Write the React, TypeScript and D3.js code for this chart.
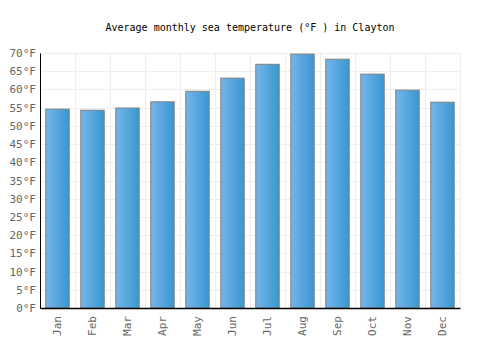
import { useEffect, useRef } from "react";
import * as d3 from "d3";

const months = ["Jan", "Feb", "Mar", "Apr", "May", "Jun", "Jul", "Aug", "Sep", "Oct", "Nov", "Dec"];
const temps = [54.6, 54.3, 54.9, 56.6, 59.5, 63.1, 66.9, 69.7, 68.3, 64.2, 59.8, 56.5];
const yTicks = [0, 5, 10, 15, 20, 25, 30, 35, 40, 45, 50, 55, 60, 65, 70];

const App = () => {
  const ref = useRef<SVGSVGElement>(null);

  useEffect(() => {
    if (!ref.current) return;
    const svg = d3.select(ref.current);
    svg.selectAll("*").remove();

    const W = 500;
    const H = 350;
    const margin = { top: 53, right: 40, bottom: 42, left: 40 };
    const width = W - margin.left - margin.right;
    const height = H - margin.top - margin.bottom;
    const font = "'DejaVu Sans Mono', monospace";

    const defs = svg.append("defs");
    const grad = defs.append("linearGradient").attr("id", "barGrad").attr("x1", "0%").attr("x2", "100%");
    grad.append("stop").attr("offset", "0%").attr("stop-color", "#75b5ea");
    grad.append("stop").attr("offset", "100%").attr("stop-color", "#3997d0");

    svg.append("text")
      .attr("x", W / 2)
      .attr("y", 31)
      .attr("text-anchor", "middle")
      .style("font-family", font)
      .style("font-size", "10px")
      .style("fill", "#000")
      .text("Average monthly sea temperature (°F ) in Clayton");

    const g = svg.append("g").attr("transform", `translate(${margin.left},${margin.top})`);

    const x = d3.scaleBand().domain(months).range([0, width]).paddingInner(0.33).paddingOuter(0.165);
    const xGrid = d3.scaleBand().domain(months).range([0, width]);
    const y = d3.scaleLinear().domain([0, 70]).range([height, 0]);

    // grid
    g.append("g")
      .selectAll("line.h")
      .data(yTicks)
      .enter()
      .append("line")
      .attr("x1", 0)
      .attr("x2", width)
      .attr("y1", (d) => Math.round(y(d)) + 0.5)
      .attr("y2", (d) => Math.round(y(d)) + 0.5)
      .attr("stroke", "#eeeeee");

    g.append("g")
      .selectAll("line.v")
      .data(months)
      .enter()
      .append("line")
      .attr("x1", (d) => Math.round(xGrid(d)! + xGrid.bandwidth()) + 0.5)
      .attr("x2", (d) => Math.round(xGrid(d)! + xGrid.bandwidth()) + 0.5)
      .attr("y1", 0)
      .attr("y2", height)
      .attr("stroke", "#eeeeee");

    // bars
    g.selectAll("rect.bar")
      .data(temps)
      .enter()
      .append("rect")
      .attr("x", (d, i) => x(months[i])!)
      .attr("y", (d) => y(d))
      .attr("width", x.bandwidth())
      .attr("height", (d) => height - y(d))
      .attr("fill", "url(#barGrad)")
      .attr("stroke", "#808080")
      .attr("stroke-width", 1);

    // axes
    const yAxis = g.append("g").call(
      d3.axisLeft(y).tickValues(yTicks).tickSize(0).tickPadding(4).tickFormat((d) => `${d}°F`)
    );
    yAxis.select(".domain").attr("stroke", "#000");
    yAxis.selectAll("text")
      .style("font-family", font)
      .style("font-size", "11px")
      .style("fill", "#666");

    const xAxis = g.append("g")
      .attr("transform", `translate(0,${height})`)
      .call(d3.axisBottom(xGrid).tickSize(0).tickSizeOuter(0));
    xAxis.select(".domain").attr("stroke", "#000").attr("stroke-width", 1.5);
    xAxis.selectAll("text")
      .attr("transform", "rotate(-90)")
      .attr("x", -8)
      .attr("y", 0)
      .attr("dy", "0.35em")
      .style("text-anchor", "end")
      .style("font-family", font)
      .style("font-size", "11px")
      .style("fill", "#666");
  }, []);

  return <svg ref={ref} width={500} height={350} style={{ display: "block", margin: "-8px" }} />;
};

export default App;
